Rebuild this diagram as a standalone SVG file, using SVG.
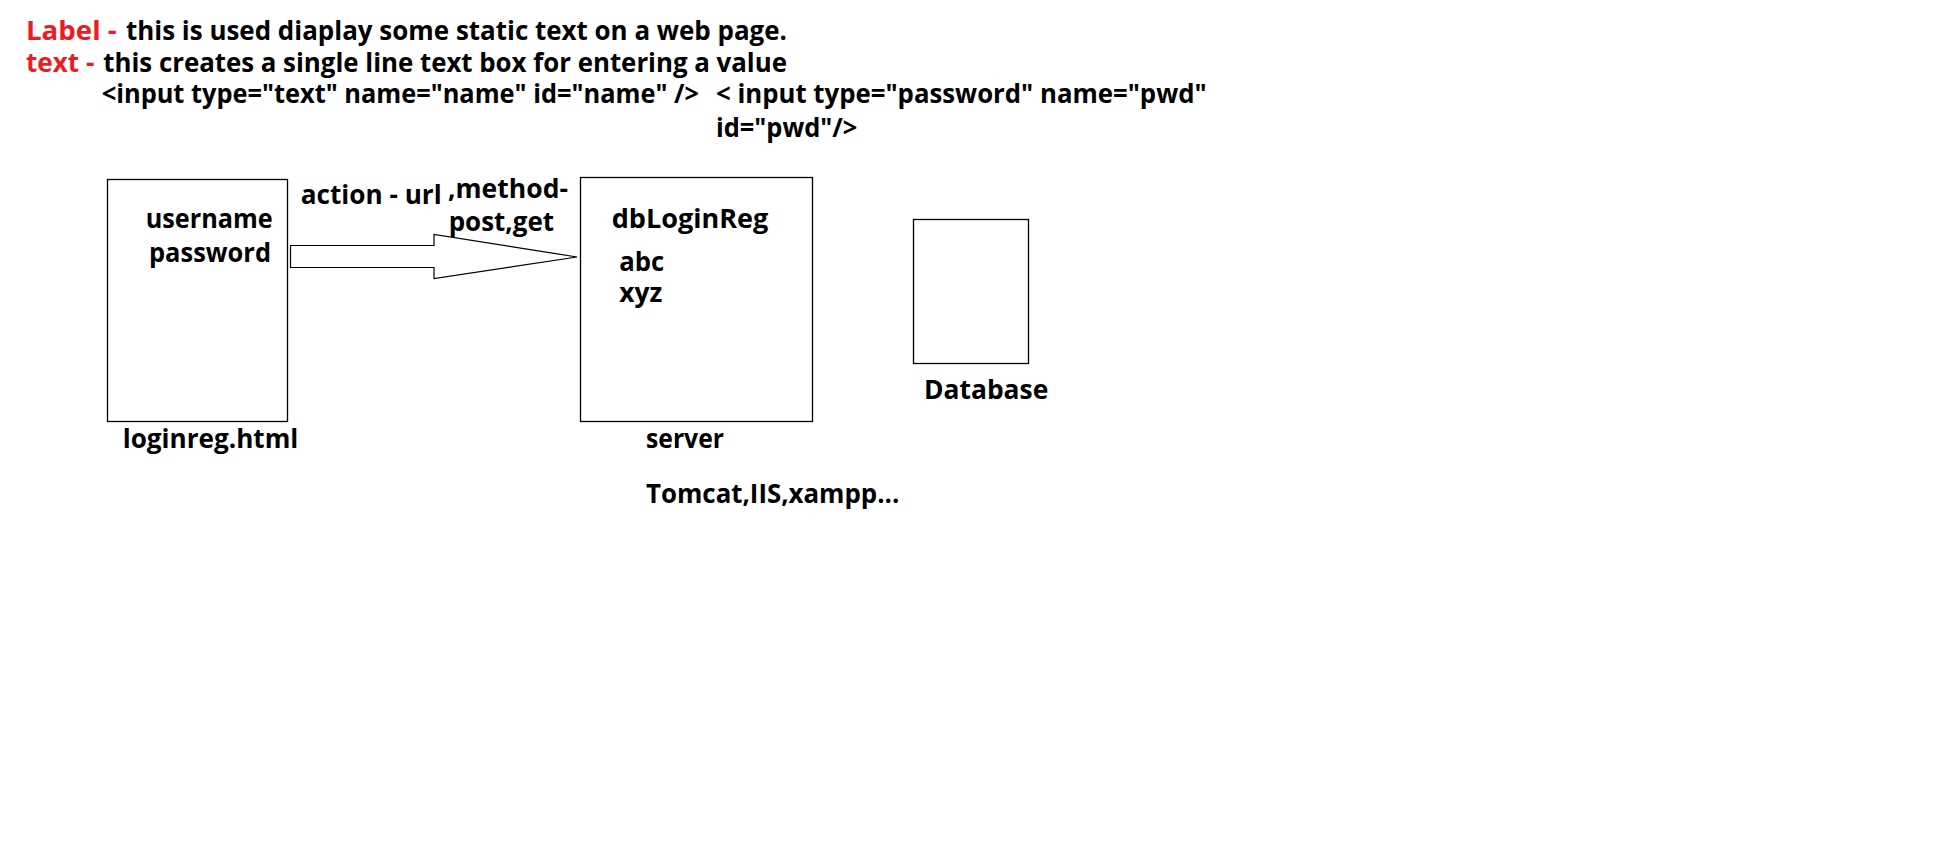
<svg xmlns="http://www.w3.org/2000/svg" width="1956" height="846" viewBox="0 0 1956 846">
<style>
text{font-family:"Open Sans","Liberation Sans",sans-serif;font-weight:700;font-size:27px;fill:#000}
.red{fill:#ED1C24}
.box{fill:#fff;stroke:#000;stroke-width:1.3}
</style>
<rect width="1956" height="846" fill="#fff"/>
<g id="notes">
<text class="red" x="26" y="39.5" textLength="90.7" lengthAdjust="spacingAndGlyphs">Label -</text>
<text x="126" y="39.5" textLength="661" lengthAdjust="spacingAndGlyphs">this is used diaplay some static text on a web page.</text>
<text class="red" x="26" y="71.7" textLength="68.3" lengthAdjust="spacingAndGlyphs">text -</text>
<text x="103.3" y="71.7" textLength="683.7" lengthAdjust="spacingAndGlyphs">this creates a single line text box for entering a value</text>
<text x="101.7" y="103.3" textLength="597.3" lengthAdjust="spacingAndGlyphs">&lt;input type="text" name="name" id="name" /&gt;</text>
<text x="716" y="103.3" textLength="490.7" lengthAdjust="spacingAndGlyphs">&lt; input type="password" name="pwd"</text>
<text x="716" y="137" textLength="141.3" lengthAdjust="spacingAndGlyphs">id="pwd"/&gt;</text>
</g>
<g id="loginreg">
<rect class="box" x="107.5" y="179.5" width="180" height="242"/>
<text x="145.7" y="228.3" textLength="127" lengthAdjust="spacingAndGlyphs">username</text>
<text x="149" y="261.7" textLength="122" lengthAdjust="spacingAndGlyphs">password</text>
<text x="122.7" y="448" textLength="175.6" lengthAdjust="spacingAndGlyphs">loginreg.html</text>
</g>
<g id="server">
<rect class="box" x="580.5" y="177.5" width="232" height="244"/>
<text x="611.7" y="227.7" textLength="156.6" lengthAdjust="spacingAndGlyphs">dbLoginReg</text>
<text x="619.3" y="271" textLength="45" lengthAdjust="spacingAndGlyphs">abc</text>
<text x="619.3" y="301.7" textLength="43" lengthAdjust="spacingAndGlyphs">xyz</text>
<text x="646" y="448.3" textLength="78" lengthAdjust="spacingAndGlyphs">server</text>
<text x="646" y="503.3" textLength="253.3" lengthAdjust="spacingAndGlyphs">Tomcat,IIS,xampp...</text>
</g>
<g id="database">
<rect class="box" x="913.5" y="219.5" width="115" height="144"/>
<text x="924" y="399.3" textLength="124.3" lengthAdjust="spacingAndGlyphs">Database</text>
</g>
<g id="connectors">
<polygon points="290.5,245.5 434,245.5 434,234.5 577,257 434,278.5 434,267.5 290.5,267.5" fill="#fff" stroke="#000" stroke-width="1.2"/>
<text x="300.7" y="204" textLength="141" lengthAdjust="spacingAndGlyphs">action - url</text>
<text x="448" y="197.7" textLength="120" lengthAdjust="spacingAndGlyphs">,method-</text>
<text x="448.7" y="231" textLength="105.3" lengthAdjust="spacingAndGlyphs">post,get</text>
</g>
</svg>
